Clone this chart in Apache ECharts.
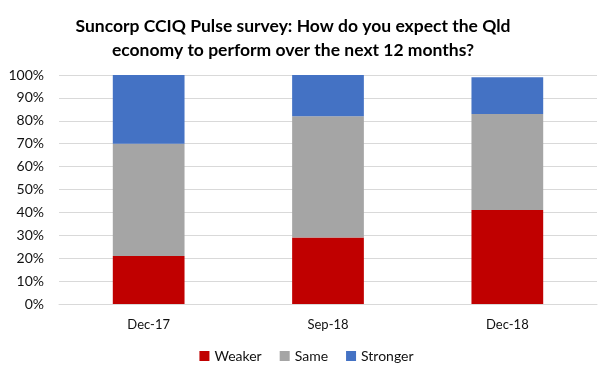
<!DOCTYPE html>
<html><head><meta charset="utf-8">
<script src="https://cdn.jsdelivr.net/npm/echarts@6/dist/echarts.min.js"></script>
<style>html,body{margin:0;padding:0;background:#fff}#c{width:613px;height:379px}</style>
</head><body><div id="c"></div>
<script>
var categories = ['Dec-17', 'Sep-18', 'Dec-18'];
var weaker = [21, 29, 41];
var same = [49, 53, 42];
var stronger = [30, 18, 16];
var yTicks = [0, 10, 20, 30, 40, 50, 60, 70, 80, 90, 100];

var FONT = 'Lato';
var chart = echarts.init(document.getElementById('c'), null, {renderer: 'canvas'});
function s(name, data, color) {
  return {name: name, type: 'bar', stack: 't', data: data, barWidth: '40%',
    itemStyle: {color: color}, emphasis: {disabled: true}};
}
chart.setOption({
  animation: false,
  title: {
    text: 'Suncorp CCIQ Pulse survey: How do you expect the Qld\neconomy to perform over the next 12 months?',
    left: 288, textAlign: 'center', top: 9,
    textStyle: {fontFamily: FONT, fontWeight: 'bold', fontSize: 17.5, color: '#000', lineHeight: 24}
  },
  legend: {
    bottom: 11, left: 'center', itemWidth: 10, itemHeight: 10, itemGap: 18,
    icon: 'rect',
    textStyle: {fontFamily: FONT, fontSize: 14, color: '#111'},
    data: ['Weaker', 'Same', 'Stronger']
  },
  grid: {left: 59, right: 16, top: 75, bottom: 75, containLabel: false},
  xAxis: {
    type: 'category', data: categories,
    axisLine: {show: true, lineStyle: {color: '#d9d9d9'}},
    axisTick: {show: false},
    axisLabel: {fontFamily: FONT, fontSize: 13, color: '#111', margin: 14}
  },
  yAxis: {
    type: 'value', min: yTicks[0], max: yTicks[yTicks.length - 1], interval: 10,
    axisLine: {show: false}, axisTick: {show: false},
    splitLine: {lineStyle: {color: '#d9d9d9', width: 1}},
    axisLabel: {fontFamily: FONT, fontSize: 14, color: '#111', margin: 15, formatter: '{value}%'}
  },
  series: [s('Weaker', weaker, '#c00000'), s('Same', same, '#a5a5a5'), s('Stronger', stronger, '#4472c4')]
});
</script></body></html>
